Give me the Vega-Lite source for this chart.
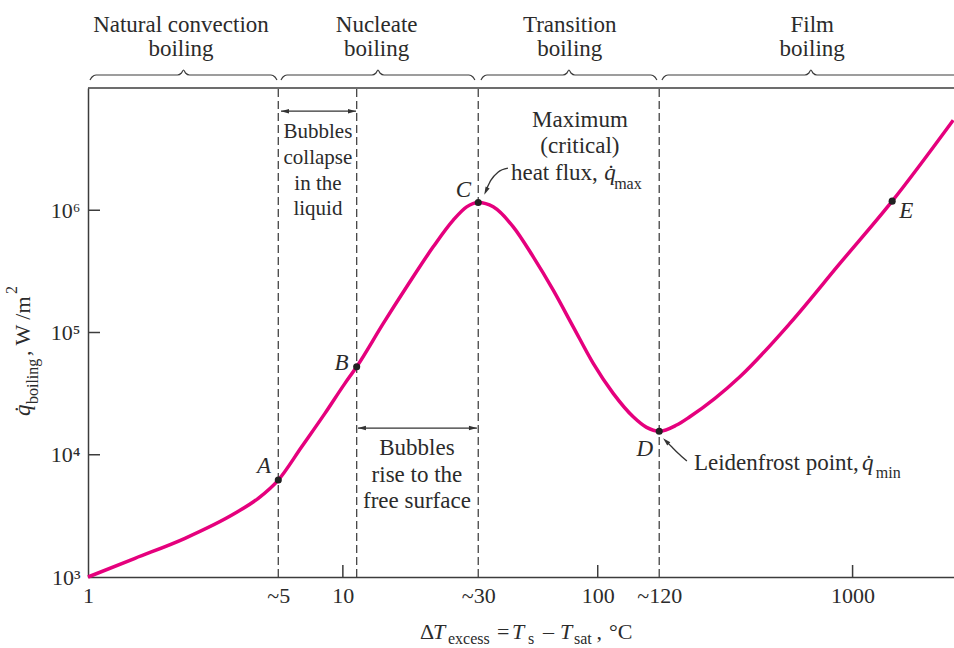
{
"$schema":"https://vega.github.io/schema/vega-lite/v6.json",
"width":866,"height":489,"autosize":"none",
"padding":{"left":88,"top":88,"right":0,"bottom":71},
"background":"#ffffff",
"config":{"view":{"stroke":null},"text":{"font":"Liberation Serif","color":"#2b2b2b"},"axis":{"labelFont":"Liberation Serif","grid":false,"title":null}},
"datasets":{
"curve":[
{"x":1,"y":1000},{"x":1.529,"y":1422},{"x":2.402,"y":2072},{"x":3.773,"y":3318},{"x":4.657,"y":4401},{"x":5.58,"y":6210},{"x":6.894,"y":11630},{"x":8.506,"y":21800},{"x":10.19,"y":38360},{"x":11.33,"y":52440},{"x":14.41,"y":118700},{"x":17.8,"y":236400},{"x":22.62,"y":502000},{"x":27.11,"y":830000},{"x":30.6,"y":1066000},{"x":33.98,"y":1158000},{"x":38.9,"y":1066000},{"x":46.61,"y":731800},{"x":55.85,"y":415900},{"x":66.9,"y":222200},{"x":80.15,"y":111300},{"x":96.02,"y":55880},{"x":115,"y":31770},{"x":137.8,"y":20450},{"x":155.5,"y":16750},{"x":174.3,"y":15560},{"x":204,"y":17500},{"x":229.9,"y":20450},{"x":361.3,"y":43430},{"x":567.5,"y":118700},{"x":891.9,"y":367300},{"x":1430,"y":1187000},{"x":2482,"y":5455000}
],
"points":[
{"p":"A","x":5.58,"y":6210},{"p":"B","x":11.33,"y":52440},{"p":"C","x":33.98,"y":1158000},{"p":"D","x":174.3,"y":15560},{"p":"E","x":1430,"y":1187000}
],
"ticks":[
{"x":1,"x2":1.1146,"y":10000,"y2":10000},{"x":1,"x2":1.1146,"y":100000,"y2":100000},{"x":1,"x2":1.1146,"y":1000000,"y2":1000000},
{"x":10,"x2":10,"y":1000,"y2":1254},{"x":100,"x2":100,"y":1000,"y2":1254},{"x":1000,"x2":1000,"y":1000,"y2":1254},
{"x":1,"x2":2500,"y":10000000,"y2":10000000}
],
"braces":[
{"b":1,"x":1.018,"y":11627000},{"b":1,"x":1.037,"y":12300000},{"b":1,"x":1.075,"y":12775000},{"b":1,"x":2.244,"y":12775000},{"b":1,"x":2.327,"y":13265000},{"b":1,"x":2.37,"y":14036000},{"b":1,"x":2.413,"y":13265000},{"b":1,"x":2.502,"y":12775000},{"b":1,"x":5.223,"y":12775000},{"b":1,"x":5.415,"y":12300000},{"b":1,"x":5.514,"y":11627000},
{"b":2,"x":5.717,"y":11627000},{"b":2,"x":5.821,"y":12300000},{"b":2,"x":6.036,"y":12775000},{"b":2,"x":13.01,"y":12775000},{"b":2,"x":13.49,"y":13265000},{"b":2,"x":13.73,"y":14036000},{"b":2,"x":13.98,"y":13265000},{"b":2,"x":14.5,"y":12775000},{"b":2,"x":31.24,"y":12775000},{"b":2,"x":32.38,"y":12300000},{"b":2,"x":32.97,"y":11627000},
{"b":3,"x":34.82,"y":11627000},{"b":3,"x":35.45,"y":12300000},{"b":3,"x":36.76,"y":12775000},{"b":3,"x":73.04,"y":12775000},{"b":3,"x":75.72,"y":13265000},{"b":3,"x":77.1,"y":14036000},{"b":3,"x":78.51,"y":13265000},{"b":3,"x":81.39,"y":12775000},{"b":3,"x":161.7,"y":12775000},{"b":3,"x":167.6,"y":12300000},{"b":3,"x":170.7,"y":11627000},
{"b":4,"x":178.6,"y":11627000},{"b":4,"x":181.9,"y":12300000},{"b":4,"x":188.6,"y":12775000},{"b":4,"x":649.9,"y":12775000},{"b":4,"x":674,"y":13265000},{"b":4,"x":686.2,"y":14036000},{"b":4,"x":698.7,"y":13265000},{"b":4,"x":724.4,"y":12775000},{"b":4,"x":2900,"y":12775000}
],
"arrows":[
{"a":"c1","x":5.717,"y":6460000},{"a":"c1","x":11.26,"y":6460000},
{"a":"r1","x":11.46,"y":16530},{"a":"r1","x":33.58,"y":16530},
{"a":"cq","x":36.76,"y":1516000},{"a":"cq","x":38.11,"y":1762000},{"a":"cq","x":40.61,"y":2049000},{"a":"cq","x":44.43,"y":2209000},
{"a":"dq","x":188.6,"y":12460},{"a":"dq","x":195.5,"y":11560},{"a":"dq","x":206.3,"y":10325},{"a":"dq","x":223.8,"y":8882}
],
"heads":[
{"d":"r","x":10.86,"y":6460000},{"d":"r","x":32.38,"y":16530},
{"d":"l","x":5.928,"y":6460000},{"d":"l","x":11.88,"y":16530},
{"d":"c","x":36.42,"y":1433000},
{"d":"d","x":185.2,"y":12940}
],
"txt":[
{"x":2.316,"y":28970000,"t":"Natural convection","k":"c"},
{"x":2.316,"y":18270000,"t":"boiling","k":"c"},
{"x":13.57,"y":28970000,"t":"Nucleate","k":"c"},
{"x":13.57,"y":18270000,"t":"boiling","k":"c"},
{"x":77.67,"y":28970000,"t":"Transition","k":"c"},
{"x":77.67,"y":18270000,"t":"boiling","k":"c"},
{"x":694.3,"y":28970000,"t":"Film","k":"c"},
{"x":694.3,"y":18270000,"t":"boiling","k":"c"},
{"x":85.16,"y":4780000,"t":"Maximum","k":"c"},
{"x":85.16,"y":2931000,"t":"(critical)","k":"c"},
{"x":19.53,"y":9943,"t":"Bubbles","k":"c"},
{"x":19.53,"y":6038,"t":"rise to the","k":"c"},
{"x":19.53,"y":3666,"t":"free surface","k":"c"},
{"x":7.985,"y":3886000,"t":"Bubbles","k":"c21"},
{"x":7.985,"y":2382000,"t":"collapse","k":"c21"},
{"x":7.985,"y":1460000,"t":"in the","k":"c21"},
{"x":7.985,"y":912000,"t":"liquid","k":"c21"},
{"x":45.65,"y":1762000,"t":"heat flux,","k":"l"},
{"x":238.5,"y":7498,"t":"Leidenfrost point,","k":"l"},
{"x":106.0,"y":1762000,"t":"q\u0307","k":"i"},
{"x":1088,"y":7498,"t":"q\u0307","k":"i"},
{"x":116.0,"y":1488000,"t":"max","k":"s"},
{"x":1234,"y":6450,"t":"min","k":"s"},
{"x":20.07,"y":311.2,"t":"Δ","k":"xl"},
{"x":22.57,"y":311.2,"t":"T","k":"xi"},
{"x":25.84,"y":285.0,"t":"excess","k":"xs"},
{"x":40.24,"y":311.2,"t":"=","k":"xl"},
{"x":46.07,"y":311.2,"t":"T","k":"xi"},
{"x":53.22,"y":285.0,"t":"s","k":"xs"},
{"x":60.95,"y":311.2,"t":"–","k":"xl"},
{"x":71.09,"y":311.2,"t":"T","k":"xi"},
{"x":80.65,"y":285.0,"t":"sat","k":"xs"},
{"x":99.0,"y":311.2,"t":",","k":"xl"},
{"x":110.7,"y":311.2,"t":"°C","k":"xl"},
{"x":4.904,"y":7087,"t":"A","k":"lt"},
{"x":9.874,"y":49270,"t":"B","k":"lt"},
{"x":29.73,"y":1280000,"t":"C","k":"lt"},
{"x":153.2,"y":9759,"t":"D","k":"lt"},
{"x":1626,"y":861800,"t":"E","k":"lt"},
{"x":0.5921,"y":20720,"t":"q\u0307","k":"ri"},
{"x":0.6365,"y":25980,"t":"boiling","k":"rs"},
{"x":0.5921,"y":64120,"t":", W /m","k":"rl"},
{"x":0.5264,"y":206100,"t":"2","k":"rs"}
]
},
"layer":[
{"data":{"name":"points"},"transform":[{"filter":"datum.p !== 'E'"}],
 "mark":{"type":"rule","color":"#444444","strokeWidth":1.3,"strokeDash":[8,4]},
 "encoding":{"x":{"field":"x","type":"quantitative","scale":{"type":"log","domain":[1,2500],"nice":false}},
  "y":{"datum":1000,"type":"quantitative","scale":{"type":"log","domain":[1000,10000000],"nice":false}},
  "y2":{"datum":10000000}}},
{"data":{"name":"ticks"},
 "mark":{"type":"rule","color":"#3c3c3c","strokeWidth":1.5},
 "encoding":{"x":{"field":"x","type":"quantitative","scale":{"type":"log","domain":[1,2500],"nice":false}},"x2":{"field":"x2"},
  "y":{"field":"y","type":"quantitative","scale":{"type":"log","domain":[1000,10000000],"nice":false}},"y2":{"field":"y2"}}},
{"data":{"name":"braces"},
 "mark":{"type":"line","color":"#3c3c3c","strokeWidth":1.2,"interpolate":"monotone"},
 "encoding":{"x":{"field":"x","type":"quantitative","scale":{"type":"log","domain":[1,2500],"nice":false}},
  "y":{"field":"y","type":"quantitative","scale":{"type":"log","domain":[1000,10000000],"nice":false}},
  "detail":{"field":"b","type":"nominal"}}},
{"data":{"name":"curve"},
 "mark":{"type":"line","color":"#e5007d","strokeWidth":3.5,"interpolate":"monotone"},
 "encoding":{"x":{"field":"x","type":"quantitative","scale":{"type":"log","domain":[1,2500],"nice":false},
   "axis":{"title":null,"values":[1,5.58,10,33.98,100,174.3,1000],"labelExpr":"datum.value < 2 ? '1' : datum.value < 7 ? '~5' : datum.value < 20 ? '10' : datum.value < 50 ? '~30' : datum.value < 150 ? '100' : datum.value < 500 ? '~120' : '1000'","ticks":false,"grid":false,"domain":true,"domainColor":"#3c3c3c","domainWidth":1.5,"labels":true,"labelFontSize":22,"labelColor":"#2b2b2b","labelPadding":8,"labelFlush":false,"labelOverlap":false,"labelBound":false}},
  "y":{"field":"y","type":"quantitative","scale":{"type":"log","domain":[1000,10000000],"nice":false},
   "axis":{"title":null,"values":[1000,10000,100000,1000000],"labelExpr":"datum.value < 5000 ? '10³' : datum.value < 50000 ? '10⁴' : datum.value < 500000 ? '10⁵' : '10⁶'","ticks":false,"grid":false,"domain":true,"domainColor":"#3c3c3c","domainWidth":1.5,"labels":true,"labelFontSize":22,"labelColor":"#2b2b2b","labelPadding":8,"labelFlush":false,"labelOverlap":false}}}},
{"data":{"name":"points"},
 "mark":{"type":"point","shape":"circle","filled":true,"color":"#222222","size":50,"opacity":1},
 "encoding":{"x":{"field":"x","type":"quantitative","scale":{"type":"log","domain":[1,2500],"nice":false}},
  "y":{"field":"y","type":"quantitative","scale":{"type":"log","domain":[1000,10000000],"nice":false}}}},
{"data":{"name":"arrows"},
 "mark":{"type":"line","color":"#333333","strokeWidth":1.3,"interpolate":"monotone"},
 "encoding":{"x":{"field":"x","type":"quantitative","scale":{"type":"log","domain":[1,2500],"nice":false}},
  "y":{"field":"y","type":"quantitative","scale":{"type":"log","domain":[1000,10000000],"nice":false}},
  "detail":{"field":"a","type":"nominal"}}},
{"data":{"name":"heads"},"transform":[{"filter":"datum.d === 'r'"}],
 "mark":{"type":"point","shape":"M-1,-0.55L1,0L-1,0.55Z","filled":true,"color":"#333333","size":64,"opacity":1,"angle":0},
 "encoding":{"x":{"field":"x","type":"quantitative","scale":{"type":"log","domain":[1,2500],"nice":false}},
  "y":{"field":"y","type":"quantitative","scale":{"type":"log","domain":[1000,10000000],"nice":false}}}},
{"data":{"name":"heads"},"transform":[{"filter":"datum.d === 'l'"}],
 "mark":{"type":"point","shape":"M-1,-0.55L1,0L-1,0.55Z","filled":true,"color":"#333333","size":64,"opacity":1,"angle":180},
 "encoding":{"x":{"field":"x","type":"quantitative","scale":{"type":"log","domain":[1,2500],"nice":false}},
  "y":{"field":"y","type":"quantitative","scale":{"type":"log","domain":[1000,10000000],"nice":false}}}},
{"data":{"name":"heads"},"transform":[{"filter":"datum.d === 'c'"}],
 "mark":{"type":"point","shape":"M-1,-0.55L1,0L-1,0.55Z","filled":true,"color":"#333333","size":64,"opacity":1,"angle":115},
 "encoding":{"x":{"field":"x","type":"quantitative","scale":{"type":"log","domain":[1,2500],"nice":false}},
  "y":{"field":"y","type":"quantitative","scale":{"type":"log","domain":[1000,10000000],"nice":false}}}},
{"data":{"name":"heads"},"transform":[{"filter":"datum.d === 'd'"}],
 "mark":{"type":"point","shape":"M-1,-0.55L1,0L-1,0.55Z","filled":true,"color":"#333333","size":64,"opacity":1,"angle":225},
 "encoding":{"x":{"field":"x","type":"quantitative","scale":{"type":"log","domain":[1,2500],"nice":false}},
  "y":{"field":"y","type":"quantitative","scale":{"type":"log","domain":[1000,10000000],"nice":false}}}},
{"data":{"name":"txt"},"transform":[{"filter":"datum.k === 'c'"}],
 "mark":{"type":"text","align":"center","baseline":"alphabetic","fontSize":23,"font":"Liberation Serif","color":"#2b2b2b"},
 "encoding":{"x":{"field":"x","type":"quantitative","scale":{"type":"log","domain":[1,2500],"nice":false}},
  "y":{"field":"y","type":"quantitative","scale":{"type":"log","domain":[1000,10000000],"nice":false}},"text":{"field":"t"}}},
{"data":{"name":"txt"},"transform":[{"filter":"datum.k === 'c21'"}],
 "mark":{"type":"text","align":"center","baseline":"alphabetic","fontSize":21,"font":"Liberation Serif","color":"#2b2b2b"},
 "encoding":{"x":{"field":"x","type":"quantitative","scale":{"type":"log","domain":[1,2500],"nice":false}},
  "y":{"field":"y","type":"quantitative","scale":{"type":"log","domain":[1000,10000000],"nice":false}},"text":{"field":"t"}}},
{"data":{"name":"txt"},"transform":[{"filter":"datum.k === 'l'"}],
 "mark":{"type":"text","align":"left","baseline":"alphabetic","fontSize":23,"font":"Liberation Serif","color":"#2b2b2b"},
 "encoding":{"x":{"field":"x","type":"quantitative","scale":{"type":"log","domain":[1,2500],"nice":false}},
  "y":{"field":"y","type":"quantitative","scale":{"type":"log","domain":[1000,10000000],"nice":false}},"text":{"field":"t"}}},
{"data":{"name":"txt"},"transform":[{"filter":"datum.k === 'i'"}],
 "mark":{"type":"text","align":"left","baseline":"alphabetic","fontSize":23,"fontStyle":"italic","font":"Liberation Serif","color":"#2b2b2b"},
 "encoding":{"x":{"field":"x","type":"quantitative","scale":{"type":"log","domain":[1,2500],"nice":false}},
  "y":{"field":"y","type":"quantitative","scale":{"type":"log","domain":[1000,10000000],"nice":false}},"text":{"field":"t"}}},
{"data":{"name":"txt"},"transform":[{"filter":"datum.k === 's'"}],
 "mark":{"type":"text","align":"left","baseline":"alphabetic","fontSize":16,"font":"Liberation Serif","color":"#2b2b2b"},
 "encoding":{"x":{"field":"x","type":"quantitative","scale":{"type":"log","domain":[1,2500],"nice":false}},
  "y":{"field":"y","type":"quantitative","scale":{"type":"log","domain":[1000,10000000],"nice":false}},"text":{"field":"t"}}},
{"data":{"name":"txt"},"transform":[{"filter":"datum.k === 'xl'"}],
 "mark":{"type":"text","align":"left","baseline":"alphabetic","fontSize":22,"font":"Liberation Serif","color":"#2b2b2b"},
 "encoding":{"x":{"field":"x","type":"quantitative","scale":{"type":"log","domain":[1,2500],"nice":false}},
  "y":{"field":"y","type":"quantitative","scale":{"type":"log","domain":[1000,10000000],"nice":false}},"text":{"field":"t"}}},
{"data":{"name":"txt"},"transform":[{"filter":"datum.k === 'xi'"}],
 "mark":{"type":"text","align":"left","baseline":"alphabetic","fontSize":22,"fontStyle":"italic","font":"Liberation Serif","color":"#2b2b2b"},
 "encoding":{"x":{"field":"x","type":"quantitative","scale":{"type":"log","domain":[1,2500],"nice":false}},
  "y":{"field":"y","type":"quantitative","scale":{"type":"log","domain":[1000,10000000],"nice":false}},"text":{"field":"t"}}},
{"data":{"name":"txt"},"transform":[{"filter":"datum.k === 'xs'"}],
 "mark":{"type":"text","align":"left","baseline":"alphabetic","fontSize":16,"font":"Liberation Serif","color":"#2b2b2b"},
 "encoding":{"x":{"field":"x","type":"quantitative","scale":{"type":"log","domain":[1,2500],"nice":false}},
  "y":{"field":"y","type":"quantitative","scale":{"type":"log","domain":[1000,10000000],"nice":false}},"text":{"field":"t"}}},
{"data":{"name":"txt"},"transform":[{"filter":"datum.k === 'lt'"}],
 "mark":{"type":"text","align":"center","baseline":"alphabetic","fontSize":23,"fontStyle":"italic","font":"Liberation Serif","color":"#2b2b2b"},
 "encoding":{"x":{"field":"x","type":"quantitative","scale":{"type":"log","domain":[1,2500],"nice":false}},
  "y":{"field":"y","type":"quantitative","scale":{"type":"log","domain":[1000,10000000],"nice":false}},"text":{"field":"t"}}},
{"data":{"name":"txt"},"transform":[{"filter":"datum.k === 'ri'"}],
 "mark":{"type":"text","align":"left","baseline":"alphabetic","angle":270,"fontSize":23,"fontStyle":"italic","font":"Liberation Serif","color":"#2b2b2b"},
 "encoding":{"x":{"field":"x","type":"quantitative","scale":{"type":"log","domain":[1,2500],"nice":false}},
  "y":{"field":"y","type":"quantitative","scale":{"type":"log","domain":[1000,10000000],"nice":false}},"text":{"field":"t"}}},
{"data":{"name":"txt"},"transform":[{"filter":"datum.k === 'rl'"}],
 "mark":{"type":"text","align":"left","baseline":"alphabetic","angle":270,"fontSize":22,"font":"Liberation Serif","color":"#2b2b2b"},
 "encoding":{"x":{"field":"x","type":"quantitative","scale":{"type":"log","domain":[1,2500],"nice":false}},
  "y":{"field":"y","type":"quantitative","scale":{"type":"log","domain":[1000,10000000],"nice":false}},"text":{"field":"t"}}},
{"data":{"name":"txt"},"transform":[{"filter":"datum.k === 'rs'"}],
 "mark":{"type":"text","align":"left","baseline":"alphabetic","angle":270,"fontSize":16,"font":"Liberation Serif","color":"#2b2b2b"},
 "encoding":{"x":{"field":"x","type":"quantitative","scale":{"type":"log","domain":[1,2500],"nice":false}},
  "y":{"field":"y","type":"quantitative","scale":{"type":"log","domain":[1000,10000000],"nice":false}},"text":{"field":"t"}}}
]
}
